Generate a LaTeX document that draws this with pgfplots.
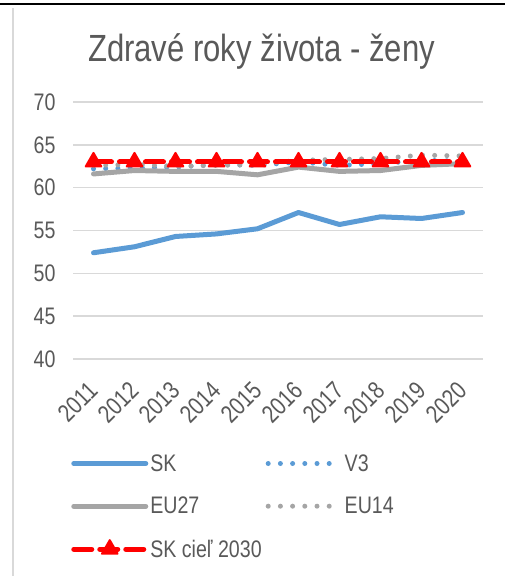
\documentclass[border=0pt]{standalone}
\usepackage{fontspec}
\setmainfont{Liberation Sans}[FakeStretch=0.82]
\usepackage{pgfplots}
\pgfplotsset{compat=1.18}
\definecolor{txt}{HTML}{595959}
\definecolor{skblue}{HTML}{5B9BD5}
\definecolor{eugray}{HTML}{A5A5A5}
\definecolor{gridc}{HTML}{D9D9D9}
\definecolor{skred}{HTML}{FF0000}
\begin{document}
\begin{tikzpicture}[x=1bp,y=1bp]
\path[use as bounding box] (0,0) rectangle (505,576);
\draw[gridc, line width=2bp] (12.5,0) -- (12.5,568);
\draw[black, line width=2bp] (0,572) -- (505,572);
\node[anchor=base, font=\fontsize{38}{44}\selectfont, text=txt] at (261.5,514) {Zdravé roky života - ženy};
\begin{axis}[
  at={(73bp,217bp)}, anchor=south west,
  scale only axis, width=410bp, height=257bp,
  xmin=-0.5, xmax=9.5, ymin=40, ymax=70,
  ytick={40,45,...,70},
  xtick={0,...,9},
  xticklabels={2011,2012,2013,2014,2015,2016,2017,2018,2019,2020},
  axis line style={draw=none},
  major tick length=0,
  ymajorgrids,
  major grid style={gridc, line width=1.5bp},
  tick label style={font=\fontsize{24}{28}\selectfont, text=txt},
  /pgf/number format/assume math mode=true,
  yticklabel style={xshift=-14bp},
  xticklabel shift=27bp,
  xticklabel style={font=\fontsize{25}{29}\selectfont, inner sep=0pt, rotate=45, anchor=east},
  legend columns=2,
  legend cell align=left,
  legend image code/.code={\draw[mark repeat=2,mark phase=2,#1] plot coordinates {(0bp,0bp) (36bp,0bp) (72bp,0bp)};},
  legend style={at={(-0.012,-0.355)}, anchor=north west, draw=none, fill=none,
    font=\fontsize{24}{28}\selectfont, text=txt, row sep=20.5bp,
    /tikz/every even column/.append style={column sep=2bp}},
]
\addplot[skblue, line width=5bp, line join=round, line cap=round] coordinates {
(0,52.4) (1,53.1) (2,54.3) (3,54.6) (4,55.2) (5,57.1) (6,55.7) (7,56.6) (8,56.4) (9,57.1)};
\addlegendentry{SK}
\addplot[skblue, line width=5bp, line cap=round, dash pattern=on 0bp off 12.2bp] coordinates {
(0,62.2) (1,62.3) (2,62.4) (3,62.7) (4,62.6) (5,63.0) (6,62.6) (7,62.8) (8,63.2) (9,63.1)};
\addlegendentry{V3}
\addplot[eugray, line width=5bp, line join=round, line cap=round] coordinates {
(0,61.6) (1,62.0) (2,61.9) (3,61.9) (4,61.5) (5,62.4) (6,61.9) (7,62.0) (8,62.6) (9,62.8)};
\addlegendentry{EU27}
\addplot[eugray, line width=5bp, line cap=round, dash pattern=on 0bp off 12.2bp] coordinates {
(0,62.6) (1,62.7) (2,62.5) (3,62.6) (4,62.7) (5,63.2) (6,63.3) (7,63.4) (8,63.8) (9,63.7)};
\addlegendentry{EU14}
\addplot[skred, line width=5bp, line cap=round, dash pattern=on 18bp off 8bp,
  mark=triangle*, mark size=9bp,
  mark options={solid, fill=skred, draw=skred, line width=2bp, line join=round}] coordinates {
(0,63) (1,63) (2,63) (3,63) (4,63) (5,63) (6,63) (7,63) (8,63) (9,63)};
\addlegendentry{SK cieľ 2030}
\end{axis}
\end{tikzpicture}
\end{document}
